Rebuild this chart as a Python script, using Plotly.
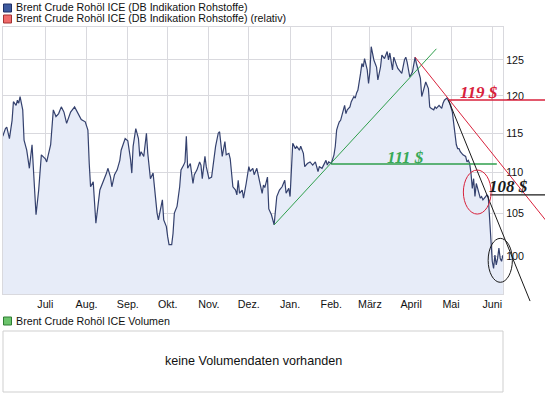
import math
import pandas as pd
import plotly.graph_objects as go

# ---------------- data ----------------
dates = [
    "2011-05-30", "2011-06-01", "2011-06-02", "2011-06-04", "2011-06-06", "2011-06-07", "2011-06-09",
    "2011-06-10", "2011-06-11", "2011-06-12", "2011-06-14", "2011-06-15", "2011-06-17", "2011-06-19",
    "2011-06-21", "2011-06-22", "2011-06-24", "2011-06-26", "2011-06-27", "2011-06-28",
    "2011-07-01", "2011-07-02", "2011-07-05", "2011-07-06", "2011-07-07", "2011-07-09", "2011-07-11",
    "2011-07-13", "2011-07-15", "2011-07-17", "2011-07-20", "2011-07-23", "2011-07-25", "2011-07-26",
    "2011-07-28", "2011-07-31",
    "2011-08-02", "2011-08-03", "2011-08-04", "2011-08-06", "2011-08-07", "2011-08-08", "2011-08-11",
    "2011-08-14", "2011-08-16", "2011-08-17", "2011-08-19", "2011-08-20", "2011-08-22", "2011-08-24",
    "2011-08-26", "2011-08-27", "2011-08-30",
    "2011-09-01", "2011-09-03", "2011-09-04", "2011-09-05", "2011-09-07", "2011-09-09", "2011-09-10",
    "2011-09-11", "2011-09-13", "2011-09-14", "2011-09-15", "2011-09-16", "2011-09-18", "2011-09-20",
    "2011-09-21", "2011-09-23", "2011-09-24", "2011-09-25", "2011-09-27", "2011-09-28", "2011-09-30",
    "2011-10-01", "2011-10-02", "2011-10-04", "2011-10-05", "2011-10-06", "2011-10-08", "2011-10-10",
    "2011-10-11", "2011-10-13", "2011-10-14", "2011-10-15", "2011-10-16", "2011-10-18", "2011-10-20",
    "2011-10-21", "2011-10-23", "2011-10-25", "2011-10-26", "2011-10-27", "2011-10-29", "2011-10-30",
    "2011-11-01", "2011-11-03", "2011-11-04", "2011-11-06", "2011-11-08", "2011-11-09", "2011-11-11",
    "2011-11-12", "2011-11-13", "2011-11-14", "2011-11-16", "2011-11-17", "2011-11-19", "2011-11-21",
    "2011-11-22", "2011-11-23", "2011-11-24", "2011-11-26", "2011-11-27", "2011-11-29",
    "2011-12-01", "2011-12-02", "2011-12-04", "2011-12-05", "2011-12-07", "2011-12-08", "2011-12-09",
    "2011-12-11", "2011-12-12", "2011-12-13", "2011-12-15", "2011-12-16", "2011-12-18", "2011-12-20",
    "2011-12-22", "2011-12-24", "2011-12-26", "2011-12-28", "2011-12-29", "2011-12-31",
    "2012-01-01", "2012-01-02", "2012-01-03", "2012-01-05", "2012-01-06", "2012-01-08", "2012-01-09",
    "2012-01-11", "2012-01-12", "2012-01-14", "2012-01-16", "2012-01-18", "2012-01-20", "2012-01-22",
    "2012-01-23", "2012-01-25", "2012-01-27", "2012-01-28", "2012-01-29", "2012-01-30",
    "2012-02-01", "2012-02-03", "2012-02-04", "2012-02-05", "2012-02-06", "2012-02-07", "2012-02-08",
    "2012-02-10", "2012-02-11", "2012-02-12", "2012-02-13", "2012-02-15", "2012-02-16", "2012-02-18",
    "2012-02-19", "2012-02-20", "2012-02-21", "2012-02-23", "2012-02-24", "2012-02-25", "2012-02-26",
    "2012-02-28", "2012-02-29",
    "2012-03-01", "2012-03-02", "2012-03-04", "2012-03-05", "2012-03-06", "2012-03-07", "2012-03-09",
    "2012-03-10", "2012-03-12", "2012-03-14", "2012-03-15", "2012-03-16", "2012-03-18", "2012-03-19",
    "2012-03-20", "2012-03-21", "2012-03-22", "2012-03-24", "2012-03-25", "2012-03-27", "2012-03-28",
    "2012-03-29", "2012-03-30", "2012-03-31",
    "2012-04-02", "2012-04-03", "2012-04-04", "2012-04-05", "2012-04-07", "2012-04-08", "2012-04-09",
    "2012-04-10", "2012-04-11", "2012-04-12", "2012-04-14", "2012-04-15", "2012-04-16", "2012-04-18",
    "2012-04-19", "2012-04-20", "2012-04-22", "2012-04-23", "2012-04-24", "2012-04-25", "2012-04-26",
    "2012-04-28", "2012-04-29", "2012-04-30",
    "2012-05-02", "2012-05-03", "2012-05-04", "2012-05-05", "2012-05-06", "2012-05-07", "2012-05-08",
    "2012-05-09", "2012-05-10", "2012-05-12", "2012-05-13", "2012-05-14", "2012-05-15", "2012-05-16",
    "2012-05-17", "2012-05-18", "2012-05-19", "2012-05-20", "2012-05-21", "2012-05-22", "2012-05-23",
    "2012-05-24", "2012-05-25", "2012-05-27", "2012-05-28", "2012-05-29", "2012-05-30", "2012-05-31",
    "2012-06-01", "2012-06-02", "2012-06-03", "2012-06-04", "2012-06-05", "2012-06-06", "2012-06-07",
    "2012-06-08", "2012-06-09",
]

prices = [
    114.6, 115.6, 115.8, 114.3, 116.7, 119.2, 118.7, 119.4, 119.0, 119.9, 118.1, 114.1, 112.8, 110.5,
    113.5, 109.9, 104.8, 107.8, 110.3, 112.2,
    111.7, 111.3, 113.5, 115.4, 118.1, 117.2, 117.6, 118.5, 117.8, 116.3, 117.8, 118.5, 117.8, 117.6,
    116.8, 116.5,
    115.4, 111.1, 108.2, 108.8, 105.4, 103.8, 107.8, 109.0, 109.9, 110.5, 109.4, 108.2, 109.7, 110.3,
    111.5, 112.8, 114.3,
    114.0, 111.7, 109.9, 113.3, 115.6, 114.3, 112.0, 112.6, 112.0, 113.3, 115.0, 112.4, 109.2, 109.9,
    108.2, 105.0, 104.2, 105.0, 106.6, 104.2, 103.4,
    102.2, 101.3, 101.3, 102.6, 105.0, 105.8, 108.2, 110.3, 110.9, 111.3, 114.6, 110.5, 111.1, 108.6,
    109.7, 110.3, 111.3, 110.9, 109.2, 112.0, 110.7,
    109.2, 109.4, 110.7, 113.3, 115.0, 115.2, 112.0, 113.0, 113.9, 112.2, 112.4, 111.7, 108.2, 107.8,
    107.2, 109.0, 107.4, 107.8, 106.8, 108.6,
    110.7, 110.1, 110.5, 109.7, 110.5, 109.7, 109.0, 107.4, 108.4, 108.1, 109.4, 105.5, 104.8, 103.6,
    107.0, 107.8, 108.2, 109.0, 107.4, 108.0,
    107.0, 109.9, 113.7, 113.0, 113.3, 112.8, 113.3, 112.4, 110.7, 111.1, 111.3, 110.9, 111.3, 110.1,
    110.7, 110.5, 111.1, 111.5, 110.9, 111.3,
    111.1, 112.2, 113.3, 115.4, 116.0, 116.5, 116.7, 118.1, 118.7, 117.6, 118.1, 118.5, 119.2, 119.9,
    119.7, 120.4, 120.8, 123.1, 124.5, 124.0, 125.2, 123.6, 121.7,
    123.3, 126.9, 125.0, 124.5, 124.0, 122.2, 124.0, 125.7, 125.2, 126.2, 125.0, 126.0, 123.6, 125.4,
    124.7, 124.3, 123.8, 123.3, 123.1, 125.0, 125.4, 124.7, 123.6, 122.6,
    123.3, 124.7, 125.4, 124.5, 123.3, 122.4, 119.9, 120.5, 121.0, 121.9, 121.0, 118.5, 118.3, 118.1,
    118.5, 118.3, 118.7, 118.5, 118.3, 119.0, 119.4, 119.7, 119.4, 119.0,
    117.8, 116.3, 115.0, 113.5, 113.0, 113.0, 112.6, 112.4, 112.2, 112.0, 111.3, 111.5, 111.1, 109.9,
    108.0, 109.2, 107.0, 108.6, 108.0, 107.4, 106.8, 107.0, 106.6, 107.0, 107.2, 107.0, 104.0, 101.3,
    99.4, 98.6, 100.1, 99.0, 99.7, 100.9, 99.7, 99.4, 100.1,
]

month_ticks = ["2011-07-01", "2011-08-01", "2011-09-01", "2011-10-01", "2011-11-01", "2011-12-01",
               "2012-01-01", "2012-02-01", "2012-03-01", "2012-04-01", "2012-05-01", "2012-06-01"]
month_labels = ["Juli", "Aug.", "Sep.", "Okt.", "Nov.", "Dez.", "Jan.", "Feb.", "März", "April", "Mai", "Juni"]
price_ticks = [100, 105, 110, 115, 120, 125]

# drawn analysis lines (date, price)
green_trend_dates = ["2011-12-20", "2012-04-20"]
green_trend_prices = [103.6, 126.6]
green_level_dates = ["2012-02-01", "2012-06-04 10:00"]
green_level = 111.05
red_trend_dates = ["2012-04-04", "2012-07-13"]
red_trend_prices = [125.4, 103.8]
red_level_dates = ["2012-04-29", "2012-07-13"]
red_level = 119.44
black_trend_dates = ["2012-04-29", "2012-06-29 10:00"]
black_trend_prices = [119.44, 95.0]
black_level_dates = ["2012-05-30 10:00", "2012-07-13"]
black_level = 107.2

level_labels = ["111 $", "119 $", "108 $"]
level_label_dates = ["2012-03-28", "2012-05-22", "2012-06-13 14:00"]
level_label_values = [green_level, red_level, black_level]

# ellipses marking price zones: (date from, date to, price low, price high)
red_zone = ("2012-05-10 07:00", "2012-05-31 03:00", 104.89, 110.28)
black_zone = ("2012-05-28 22:00", "2012-06-16 03:00", 97.05, 102.03)

legend_main = "Brent Crude Rohöl ICE (DB Indikation Rohstoffe)"
legend_rel = "Brent Crude Rohöl ICE (DB Indikation Rohstoffe) (relativ)"
legend_vol = "Brent Crude Rohöl ICE Volumen"
no_volume_text = "keine Volumendaten vorhanden"

# ---------------- layout geometry ----------------
W, H = 545, 398
PL, PR, PT, PB = 3, 503, 27, 294         # main plot area (pixels)
OV_R, OV_B = 545, 312                    # overlay area for analysis lines
VT, VB = 331, 392                        # volume box


def fx(p):
    return p / W


def fy(p):
    return 1 - p / H


x_start = pd.Timestamp("2011-05-30 04:00")
x_end = pd.Timestamp("2012-06-09 02:00")
x2_end = x_start + (x_end - x_start) * ((OV_R - PL) / (PR - PL))

y_lo = 2 - (PB - 256) / 2022.8
y_hi = 2 + (256 - PT) / 2022.8
y2_lo = y_lo - (OV_B - PB) / (PB - PT) * (y_hi - y_lo)

FONT = "Liberation Sans, Arial, sans-serif"
SERIF = "Liberation Serif, Times New Roman, serif"
GRID = "#d9d9de"
LINE_BLUE = "#34416e"
FILL_BLUE = "#e7ecf8"
GREEN = "#2f9f4c"
GREEN_TXT = "#38a957"
RED = "#d8223c"
BLACK = "#1a1a1a"

fig = go.Figure()

fig.add_trace(go.Scatter(
    x=dates, y=prices, mode="lines",
    line=dict(color=LINE_BLUE, width=1.2),
    fill="tozeroy", fillcolor=FILL_BLUE,
    xaxis="x", yaxis="y", hoverinfo="skip",
))


def add_line(xs, ys, color, width):
    fig.add_trace(go.Scatter(x=xs, y=ys, mode="lines", line=dict(color=color, width=width),
                             xaxis="x2", yaxis="y2", hoverinfo="skip"))


add_line(green_trend_dates, green_trend_prices, GREEN, 1)
add_line(green_level_dates, [green_level, green_level], GREEN, 1.4)
add_line(red_trend_dates, red_trend_prices, RED, 1)
add_line(red_level_dates, [red_level, red_level], RED, 1.5)
add_line(black_trend_dates, black_trend_prices, BLACK, 1)
add_line(black_level_dates, [black_level, black_level], BLACK, 1.2)

label_colors = [GREEN_TXT, RED, BLACK]
label_shifts = [6.6, 7.7, 8.3]
annotations = []
for txt, d, v, c, s in zip(level_labels, level_label_dates, level_label_values, label_colors, label_shifts):
    annotations.append(dict(
        x=d, y=math.log10(v), xref="x2", yref="y2", text=f"<b><i>{txt}</i></b>",
        showarrow=False, xanchor="center", yanchor="middle", yshift=s,
        font=dict(family=SERIF, size=17, color=c),
    ))

# legend texts
legend_rows = [(legend_main, 7.5), (legend_rel, 18.5)]
for txt, yy in legend_rows:
    annotations.append(dict(x=fx(14), y=fy(yy), xref="paper", yref="paper", text=txt,
                            showarrow=False, xanchor="left", yanchor="middle",
                            font=dict(family=FONT, size=10.7, color="#111111")))
annotations.append(dict(x=fx(14), y=fy(321), xref="paper", yref="paper", text=legend_vol,
                        showarrow=False, xanchor="left", yanchor="middle",
                        font=dict(family=FONT, size=10.7, color="#111111")))
annotations.append(dict(x=fx((PL + PR) / 2), y=fy(361), xref="paper", yref="paper", text=no_volume_text,
                        showarrow=False, xanchor="center", yanchor="middle",
                        font=dict(family=FONT, size=12.6, color="#111111")))

shapes = []
# legend squares
for (y0, fill, edge) in [(4, "#3d5a9e", "#1e2f66"), (15, "#ef6b6b", "#a33030"), (317, "#6cc46c", "#2e7d32")]:
    shapes.append(dict(type="rect", xref="paper", yref="paper",
                       x0=fx(3.5), x1=fx(11.5), y0=fy(y0), y1=fy(y0 + 8),
                       fillcolor=fill, line=dict(color=edge, width=1)))
# volume box
shapes.append(dict(type="rect", xref="paper", yref="paper",
                   x0=fx(PL), x1=fx(PR), y0=fy(VB), y1=fy(VT),
                   fillcolor="white", line=dict(color="#cfcfcf", width=1), layer="below"))
# ellipses around price zones
for zone, c in [(red_zone, RED), (black_zone, BLACK)]:
    shapes.append(dict(type="circle", xref="x2", yref="y2",
                       x0=zone[0], x1=zone[1], y0=zone[2], y1=zone[3],
                       line=dict(color=c, width=1)))

fig.update_layout(
    width=W, height=H, autosize=False,
    margin=dict(l=0, r=0, t=0, b=0, pad=0),
    paper_bgcolor="white", plot_bgcolor="rgba(0,0,0,0)",
    showlegend=False, hovermode=False,
    font=dict(family=FONT, size=10.7, color="#111111"),
    xaxis=dict(
        domain=[fx(PL), fx(PR)], type="date", range=[x_start, x_end],
        tickvals=month_ticks, ticktext=month_labels, ticks="",
        showgrid=True, gridcolor=GRID, gridwidth=1, zeroline=False,
        showline=True, linecolor=GRID, mirror=True,
        tickfont=dict(family=FONT, size=10.7, color="#111111"),
        anchor="y", fixedrange=True,
    ),
    yaxis=dict(
        domain=[fy(PB), fy(PT)], type="log", range=[y_lo, y_hi], side="right",
        tickvals=price_ticks, ticktext=[str(t) for t in price_ticks], ticks="",
        showgrid=True, gridcolor=GRID, gridwidth=1, zeroline=False,
        showline=True, linecolor=GRID, mirror=True,
        tickfont=dict(family=FONT, size=10.7, color="#111111"),
        anchor="x", fixedrange=True,
    ),
    xaxis2=dict(domain=[fx(PL), fx(OV_R)], type="date", range=[x_start, x2_end],
                visible=False, anchor="y2", fixedrange=True),
    yaxis2=dict(domain=[fy(OV_B), fy(PT)], type="log", range=[y2_lo, y_hi],
                visible=False, anchor="x2", fixedrange=True),
    annotations=annotations,
    shapes=shapes,
)

fig.write_html(
    "out.html",
    config={"displayModeBar": False, "staticPlot": True},
    post_script="document.body.style.margin='0';document.body.style.overflow='hidden';",
)
